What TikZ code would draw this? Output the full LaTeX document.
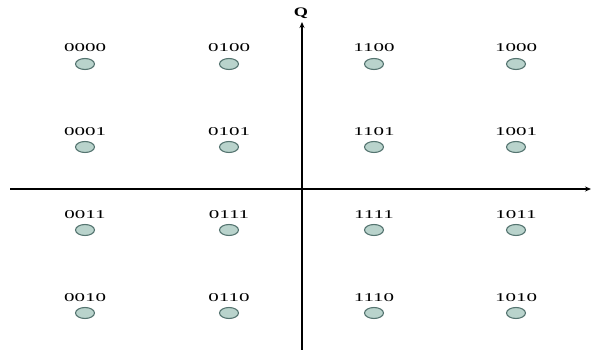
\documentclass[tikz,border=0pt]{standalone}
\usepackage{fontspec}
\setmainfont{Liberation Serif}
\usetikzlibrary{arrows.meta,shapes.geometric}
\definecolor{ptfill}{HTML}{B9D3CC}
\definecolor{ptdraw}{HTML}{557470}
\tikzset{
  lbl/.style={inner sep=0pt, font=\fontsize{12}{12}\selectfont, text=black},
  pt/.style={ellipse, draw=ptdraw, fill=ptfill, line width=1.1pt, minimum width=19pt, minimum height=11pt, inner sep=0pt},
  axis/.style={line width=1.7pt, -{Stealth[length=6pt,width=5pt]}}
}
\newcommand{\wide}[1]{\scalebox{1.75}[1]{#1}}
\begin{document}
\begin{tikzpicture}[x=1pt,y=-1pt]
\useasboundingbox (0,0) rectangle (606,350);
\coordinate (vb) at (302,350);
\coordinate (vt) at (302,22);
\coordinate (hl) at (10,189);
\coordinate (hr) at (591,189);
\draw[axis] (vb) -- (vt);
\draw[axis] (hl) -- (hr);
\node[lbl, font=\fontsize{13}{13}\selectfont\bfseries] (q) at (301,13) {\scalebox{1.4}[1]{Q}};
% row 1
\node[lbl] (l0000) at (85,48) {\wide{0000}};
\node[pt] (p0000) at (85,64) {};
\node[lbl] (l0100) at (229,48) {\wide{0100}};
\node[pt] (p0100) at (229,64) {};
\node[lbl] (l1100) at (374,48) {\wide{1100}};
\node[pt] (p1100) at (374,64) {};
\node[lbl] (l1000) at (516,48) {\wide{1000}};
\node[pt] (p1000) at (516,64) {};
% row 2
\node[lbl] (l0001) at (85,132) {\wide{0001}};
\node[pt] (p0001) at (85,147) {};
\node[lbl] (l0101) at (229,132) {\wide{0101}};
\node[pt] (p0101) at (229,147) {};
\node[lbl] (l1101) at (374,132) {\wide{1101}};
\node[pt] (p1101) at (374,147) {};
\node[lbl] (l1001) at (516,132) {\wide{1001}};
\node[pt] (p1001) at (516,147) {};
% row 3
\node[lbl] (l0011) at (85,215) {\wide{0011}};
\node[pt] (p0011) at (85,230) {};
\node[lbl] (l0111) at (229,215) {\wide{0111}};
\node[pt] (p0111) at (229,230) {};
\node[lbl] (l1111) at (374,215) {\wide{1111}};
\node[pt] (p1111) at (374,230) {};
\node[lbl] (l1011) at (516,215) {\wide{1011}};
\node[pt] (p1011) at (516,230) {};
% row 4
\node[lbl] (l0010) at (85,298) {\wide{0010}};
\node[pt] (p0010) at (85,313) {};
\node[lbl] (l0110) at (229,298) {\wide{0110}};
\node[pt] (p0110) at (229,313) {};
\node[lbl] (l1110) at (374,298) {\wide{1110}};
\node[pt] (p1110) at (374,313) {};
\node[lbl] (l1010) at (516,298) {\wide{1010}};
\node[pt] (p1010) at (516,313) {};
\end{tikzpicture}
\end{document}
